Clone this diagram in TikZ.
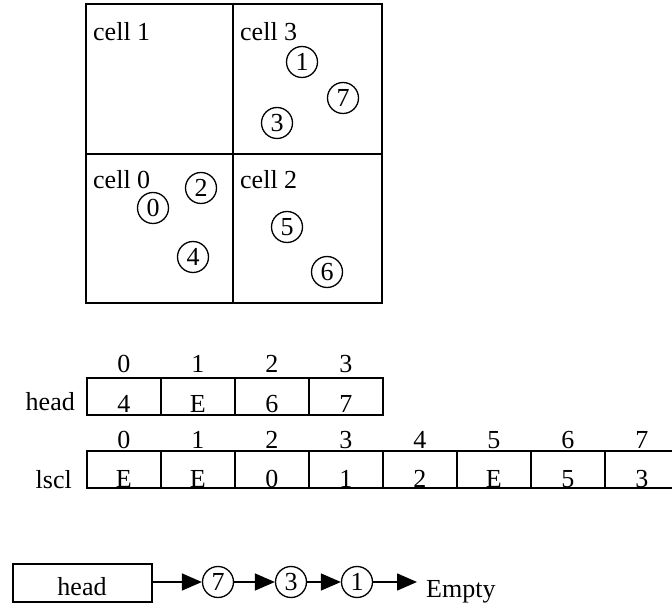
\documentclass[tikz,border=0pt]{standalone}
\usepackage{fontspec}
\setmainfont{Liberation Serif}
\usetikzlibrary{arrows.meta}
\begin{document}
\begin{tikzpicture}[x=1pt,y=-1pt,
  every node/.style={font=\fontsize{26}{30}\selectfont},
  frame/.style={line width=1.6pt},
  ball/.style={circle,draw,line width=1.3pt,minimum size=31pt,inner sep=0pt},
  slot/.style={draw,line width=1.6pt,minimum width=74pt,minimum height=37pt,inner sep=0pt,anchor=north west},
  txt/.style={inner sep=0pt},
  link/.style={line width=1.5pt,-{Triangle[length=20pt,width=17pt]}}]
\useasboundingbox (0,0) rectangle (672,609);

% spatial grid of four cells
\draw[frame] (86,4) rectangle (382,303);
\draw[frame] (233,4) -- (233,303);
\draw[frame] (86,154) -- (382,154);
\node[txt,anchor=base west] (t1) at (93,41) {cell 1};
\node[txt,anchor=base west] (t3) at (240,41) {cell 3};
\node[txt,anchor=base west] (t0) at (93,189) {cell 0};
\node[txt,anchor=base west] (t2) at (240,189) {cell 2};

% particles
\newcommand{\pnum}[1]{\raisebox{-4pt}{#1}}
\node[ball] (p1) at (302,62) {\pnum{1}};
\node[ball] (p7) at (343,98) {\pnum{7}};
\node[ball] (p3) at (277,123) {\pnum{3}};
\node[ball] (p2) at (201,188) {\pnum{2}};
\node[ball] (p0) at (153,208) {\pnum{0}};
\node[ball] (p4) at (193,257) {\pnum{4}};
\node[ball] (p5) at (287,227) {\pnum{5}};
\node[ball] (p6) at (327,272) {\pnum{6}};

% head array
\node[txt,anchor=base east] (hl) at (75,410) {head};
\foreach \i/\v in {0/4,1/E,2/6,3/7}{
  \node[slot] (h\i) at ({86+74*\i},377) {};
  \node[txt,anchor=base] (hi\i) at ([yshift=4pt]h\i.north) {\i};
  \node[txt,anchor=base] (hv\i) at ([yshift=3pt]h\i.south) {\v};
}

% lscl array
\node[txt,anchor=base east] (ll) at (72,488) {lscl};
\foreach \i/\v in {0/E,1/E,2/0,3/1,4/2,5/E,6/5,7/3}{
  \node[slot] (l\i) at ({86+74*\i},450) {};
  \node[txt,anchor=base] (li\i) at ([yshift=2pt]l\i.north) {\i};
  \node[txt,anchor=base] (lv\i) at ([yshift=1pt]l\i.south) {\v};
}

% linked list of cell 3
\node[draw,frame,minimum width=139pt,minimum height=38pt,inner sep=0pt,anchor=north west] (hb) at (12,563) {};
\node[txt,anchor=base] (hbt) at (82,595) {head};
\node[ball] (q7) at (218,582) {\pnum{7}};
\node[ball] (q3) at (291,582) {\pnum{3}};
\node[ball] (q1) at (357,582) {\pnum{1}};
\node[txt,inner xsep=9pt,anchor=base west] (em) at (417,597) {Empty};
\draw[link] (hb.east |- q7) -- (q7.west);
\draw[link] (q7.east) -- (q3.west);
\draw[link] (q3.east) -- (q1.west);
\draw[link] (q1.east) -- (q1.east -| em.west);
\end{tikzpicture}
\end{document}
